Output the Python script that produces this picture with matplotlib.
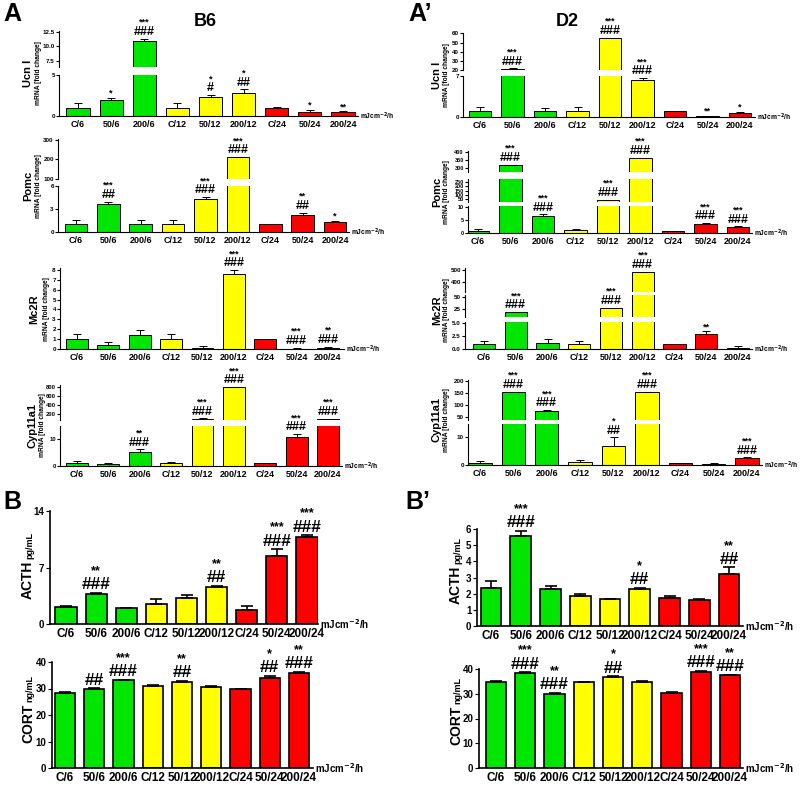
import matplotlib
matplotlib.use("Agg")
import matplotlib.pyplot as plt
import numpy as np

plt.rcParams['font.family'] = ['Liberation Sans', 'DejaVu Sans']
plt.rcParams['font.weight'] = 'bold'

W, H = 800, 785

groups = ["C/6", "50/6", "200/6", "C/12", "50/12", "200/12", "C/24", "50/24", "200/24"]
bar_colors = ["#00e600"] * 3 + ["#ffff00"] * 3 + ["#ff0000"] * 3

# ---- A: B6 mRNA ----
b6_ucn = [1.0, 2.0, 10.8, 1.0, 2.3, 2.8, 1.0, 0.5, 0.45]
b6_ucn_err = [0.6, 0.25, 0.45, 0.6, 0.27, 0.45, 0.05, 0.25, 0.15]
b6_ucn_star = ["", "*", "***", "", "*", "*", "", "*", "**"]
b6_ucn_hash = ["", "", "###", "", "#", "##", "", "", ""]

b6_pomc = [1.0, 3.7, 1.1, 1.0, 4.3, 211, 1.0, 2.2, 1.35]
b6_pomc_err = [0.55, 0.25, 0.5, 0.6, 0.25, 2, 0.05, 0.3, 0.15]
b6_pomc_star = ["", "***", "", "", "***", "***", "", "**", "*"]
b6_pomc_hash = ["", "##", "", "", "###", "###", "", "##", ""]

b6_mc2r = [1.0, 0.4, 1.42, 1.0, 0.07, 7.58, 1.0, 0.02, 0.12]
b6_mc2r_err = [0.5, 0.27, 0.5, 0.5, 0.27, 0.4, 0.05, 0.12, 0.1]
b6_mc2r_star = ["", "", "", "", "", "***", "", "***", "**"]
b6_mc2r_hash = ["", "", "", "", "", "###", "", "###", "###"]

b6_cyp = [1.0, 0.9, 5.3, 1.0, 100, 790, 1.0, 11.0, 98]
b6_cyp_err = [0.7, 0.15, 0.9, 0.6, 2, 5, 0.05, 1.0, 2]
b6_cyp_star = ["", "", "**", "", "***", "***", "", "***", "***"]
b6_cyp_hash = ["", "", "###", "", "###", "###", "", "###", "###"]

# ---- A': D2 mRNA ----
d2_ucn = [1.05, 21.5, 1.0, 1.08, 55, 6.26, 1.0, 0.1, 0.6]
d2_ucn_err = [0.6, 0.3, 0.5, 0.6, 0.5, 0.4, 0.05, 0.15, 0.25]
d2_ucn_star = ["", "***", "", "", "***", "***", "", "**", "*"]
d2_ucn_hash = ["", "###", "", "", "###", "###", "", "", ""]

d2_pomc = [0.9, 319, 6.7, 1.0, 42, 362, 0.9, 3.6, 2.35]
d2_pomc_err = [0.5, 2, 0.5, 0.6, 1, 2, 0.05, 0.25, 0.25]
d2_pomc_star = ["", "***", "***", "", "***", "***", "", "***", "***"]
d2_pomc_hash = ["", "###", "###", "", "###", "###", "", "###", "###"]

d2_mc2r = [0.9, 17.5, 1.08, 0.9, 27, 484, 1.0, 2.9, 0.2]
d2_mc2r_err = [0.64, 1.0, 0.8, 0.64, 0.6, 3, 0.05, 0.5, 0.38]
d2_mc2r_star = ["", "***", "", "", "***", "***", "", "**", ""]
d2_mc2r_hash = ["", "###", "", "", "###", "###", "", "", ""]

d2_cyp = [0.8, 154, 76, 0.9, 6.8, 154, 0.8, 0.5, 2.6]
d2_cyp_err = [0.7, 1.5, 2, 0.8, 3.0, 1.5, 0.05, 0.2, 0.15]
d2_cyp_star = ["", "***", "***", "", "*", "***", "", "", "***"]
d2_cyp_hash = ["", "###", "###", "", "##", "###", "", "", "###"]

# ---- B: B6 hormones ----
b6_acth = [2.14, 3.7, 1.94, 2.48, 3.18, 4.62, 1.73, 8.46, 10.8]
b6_acth_err = [0.05, 0.2, 0.05, 0.58, 0.42, 0.08, 0.46, 0.8, 0.2]
b6_acth_star = ["", "**", "", "", "", "**", "", "***", "***"]
b6_acth_hash = ["", "###", "", "", "", "##", "", "###", "###"]

b6_cort = [28.2, 29.8, 33.1, 31.0, 32.6, 30.7, 29.7, 33.8, 35.7]
b6_cort_err = [0.35, 0.3, 0.25, 0.15, 0.25, 0.35, 0.1, 1.1, 0.5]
b6_cort_star = ["", "", "***", "", "**", "", "", "*", "**"]
b6_cort_hash = ["", "##", "###", "", "##", "", "", "##", "###"]

# ---- B': D2 hormones ----
d2_acth = [2.37, 5.57, 2.27, 1.85, 1.65, 2.29, 1.71, 1.62, 3.21]
d2_acth_err = [0.43, 0.31, 0.22, 0.11, 0.02, 0.05, 0.14, 0.02, 0.41]
d2_acth_star = ["", "***", "", "", "", "*", "", "", "**"]
d2_acth_hash = ["", "###", "", "", "", "##", "", "", "##"]

d2_cort = [34.9, 38.5, 29.8, 34.7, 36.6, 34.8, 30.4, 38.9, 37.4]
d2_cort_err = [0.15, 0.2, 0.7, 0.15, 0.4, 0.15, 0.15, 0.4, 0.35]
d2_cort_star = ["", "***", "**", "", "*", "", "", "***", "**"]
d2_cort_hash = ["", "###", "###", "", "##", "", "", "###", "###"]

fig = plt.figure(figsize=(W / 100, H / 100), dpi=100)
fig.patch.set_facecolor("white")
renderer = fig.canvas.get_renderer()


def px_box(l, t, r, b):
    return [l / W, 1 - b / H, (r - l) / W, (b - t) / H]


def px(x, y):
    return x / W, 1 - y / H


def draw_panel(xl, xr, x0, x8, segs, vals, errs, stars, hashes, big=False, tick_fs=4.5):
    """segs: (top_px, bottom_px, ymin, ymax, ticks, ticklabels), from top to bottom"""
    xs = np.arange(len(groups))
    sp = (x8 - x0) / 8
    lw = 1.2 if big else 0.7
    lo_err = np.zeros(len(vals))
    axes = []
    for k, (top, bot, lo, hi, ticks, labels) in enumerate(segs):
        ax = fig.add_axes(px_box(xl, top, xr, bot))
        ax.patch.set_alpha(0)
        ax.bar(xs, vals, width=0.7, color=bar_colors, edgecolor="black", linewidth=lw, zorder=2)
        ax.errorbar(xs, vals, yerr=[lo_err, errs], fmt="none", ecolor="black",
                    elinewidth=lw, capsize=4 if big else 3, capthick=lw, zorder=3)
        ax.set_xlim((xl - x0) / sp, (xr - x0) / sp)
        ax.set_ylim(lo, hi)
        for s in ["top", "right"]:
            ax.spines[s].set_visible(False)
        for s in ["left", "bottom"]:
            ax.spines[s].set_linewidth(1.2 if big else 0.8)
        ax.set_yticks(ticks)
        ax.set_yticklabels(labels, fontsize=7 if big else tick_fs, fontweight="bold")
        ax.tick_params(axis="y", length=3 if big else 2, width=0.8, pad=1)
        if k < len(segs) - 1:
            ax.spines["bottom"].set_visible(False)
            ax.tick_params(axis="x", bottom=False, labelbottom=False)
        else:
            ax.set_xticks(xs)
            ax.set_xticklabels(groups, fontsize=8.5 if big else 6.5, fontweight="bold")
            ax.tick_params(axis="x", length=0, pad=3)
        axes.append((ax, lo))

    fs_star = 9 if big else 6.5
    fs_hash = 12.5 if big else 9
    for i in xs:
        topv = vals[i] + errs[i]
        ax = [a for a, lo in axes if lo <= topv][0]
        off = 0.5
        if hashes[i]:
            ax.annotate(hashes[i], xy=(i, topv), xytext=(0, off), textcoords="offset points",
                        ha="center", va="bottom", fontsize=fs_hash, annotation_clip=False)
            off += fs_hash * 0.95
        if stars[i]:
            ax.annotate(stars[i], xy=(i, topv), xytext=(0, off - (1 if big else 0.5)),
                        textcoords="offset points",
                        ha="center", va="bottom", fontsize=fs_star, annotation_clip=False)
    unit_y = segs[-1][1]
    fig.text(*px(xr + 2, unit_y), "mJcm$^{-2}$/h", fontsize=7 if big else 4.8,
             ha="left", va="center", fontweight="bold")
    return axes


def gene_label(x, ymid, name, dx=10):
    fig.text(*px(x, ymid), name, rotation=90, fontsize=8, ha="center", va="center", fontweight="bold")
    fig.text(*px(x + dx, ymid), "mRNA [fold change]", rotation=90, fontsize=4.8,
             ha="center", va="center", fontweight="bold")


def hormone_label(x, ybot, name, unit):
    t = fig.text(*px(x, ybot), name, rotation=90, fontsize=10, ha="center", va="bottom",
                 fontweight="bold")
    bb = t.get_window_extent(renderer=renderer)
    ytop = H - bb.y1
    fig.text(*px(x + 2, ytop - 2), unit, rotation=90, fontsize=6.5,
             ha="center", va="bottom", fontweight="bold")


# ---------- A (B6) ----------
draw_panel(59, 358, 78, 343,
           [(31, 67, 6.4, 12.6, [7.5, 10.0, 12.5], ["7.5", "10.0", "12.5"]),
            (75, 116, 0, 5, [0, 5], ["0", "5"])],
           b6_ucn, b6_ucn_err, b6_ucn_star, b6_ucn_hash)
gene_label(28, 73, "Ucn I", 11)

draw_panel(58, 349, 76, 335,
           [(139, 179, 100, 305, [100, 200, 300], ["100", "200", "300"]),
            (186, 232, 0, 6, [0, 3, 6], ["0", "3", "6"])],
           b6_pomc, b6_pomc_err, b6_pomc_star, b6_pomc_hash)
gene_label(28, 186, "Pomc", 10)

draw_panel(60, 344, 77, 328,
           [(268, 349, 0, 8.2, list(range(9)), [str(v) for v in range(9)])],
           b6_mc2r, b6_mc2r_err, b6_mc2r_star, b6_mc2r_hash)
gene_label(34, 309, "Mc2R", 12)

draw_panel(60, 342, 77, 328,
           [(385, 420, 67, 840, [200, 400, 600, 800], ["200", "400", "600", "800"]),
            (426, 466, 0, 15, [0, 10], ["0", "10"])],
           b6_cyp, b6_cyp_err, b6_cyp_star, b6_cyp_hash, tick_fs=4.2)
gene_label(33, 425, "Cyp11a1", 9)

# ---------- A' (D2) ----------
draw_panel(463, 755, 480, 740,
           [(33, 70, 20, 60.5, [20, 30, 40, 50, 60], ["20", "30", "40", "50", "60"]),
            (76, 117, 0, 7, [0, 7], ["0", "7"])],
           d2_ucn, d2_ucn_err, d2_ucn_star, d2_ucn_hash)
gene_label(437, 75, "Ucn I")

draw_panel(468, 752, 478, 738,
           [(151, 172, 275, 406, [300, 350, 400], ["300", "350", "400"]),
            (179, 202, 18, 285, [50, 100, 150, 200, 250], ["50", "100", "150", "200", "250"]),
            (206, 233, 0, 10.4, [0, 5, 10], ["0", "5", "10"])],
           d2_pomc, d2_pomc_err, d2_pomc_star, d2_pomc_hash, tick_fs=4.0)
gene_label(437, 192, "Pomc")

draw_panel(465, 752, 484, 738,
           [(268, 292, 317, 517, [400, 500], ["400", "500"]),
            (295, 317, 8, 54, [25, 50], ["25", "50"]),
            (322, 349, 0, 5.2, [0.0, 2.5, 5.0], ["0.0", "2.5", "5.0"])],
           d2_mc2r, d2_mc2r_err, d2_mc2r_star, d2_mc2r_hash)
gene_label(437, 310, "Mc2R")

draw_panel(468, 762, 480, 747,
           [(380, 420, 37, 204, [50, 100, 150, 200], ["50", "100", "150", "200"]),
            (424, 465, 0, 14.6, [0, 10], ["0", "10"])],
           d2_cyp, d2_cyp_err, d2_cyp_star, d2_cyp_hash)
gene_label(437, 420, "Cyp11a1")

# ---------- B (B6) ----------
draw_panel(50, 318, 66, 307,
           [(511, 624, 0, 14, [0, 7, 14], ["0", "7", "14"])],
           b6_acth, b6_acth_err, b6_acth_star, b6_acth_hash, big=True)
hormone_label(28, 599, "ACTH", "pg/mL")

draw_panel(52, 313, 65, 299,
           [(662, 768, 0, 40, [0, 10, 20, 30, 40], ["0", "10", "20", "30", "40"])],
           b6_cort, b6_cort_err, b6_cort_star, b6_cort_hash, big=True)
hormone_label(28, 743, "CORT", "ng/mL")

# ---------- B' (D2) ----------
draw_panel(477, 743, 491, 729,
           [(529, 626, 0, 6, list(range(7)), [str(v) for v in range(7)])],
           d2_acth, d2_acth_err, d2_acth_star, d2_acth_hash, big=True)
hormone_label(456, 604, "ACTH", "pg/mL")

draw_panel(479, 743, 496, 730,
           [(669, 768, 0, 40, [0, 10, 20, 30, 40], ["0", "10", "20", "30", "40"])],
           d2_cort, d2_cort_err, d2_cort_star, d2_cort_hash, big=True)
hormone_label(456, 745, "CORT", "ng/mL")

# panel letters and strain titles
fig.text(*px(3, 2), "A", fontsize=18, fontweight="bold", ha="left", va="top")
fig.text(*px(408, 2), "A\u2019", fontsize=18, fontweight="bold", ha="left", va="top")
fig.text(*px(205, 22), "B6", fontsize=13, fontweight="bold", ha="center", va="center")
fig.text(*px(567, 22), "D2", fontsize=13, fontweight="bold", ha="center", va="center")
fig.text(*px(3, 490), "B", fontsize=18, fontweight="bold", ha="left", va="top")
fig.text(*px(405, 490), "B\u2019", fontsize=18, fontweight="bold", ha="left", va="top")

fig.savefig("out.png", dpi=100)
